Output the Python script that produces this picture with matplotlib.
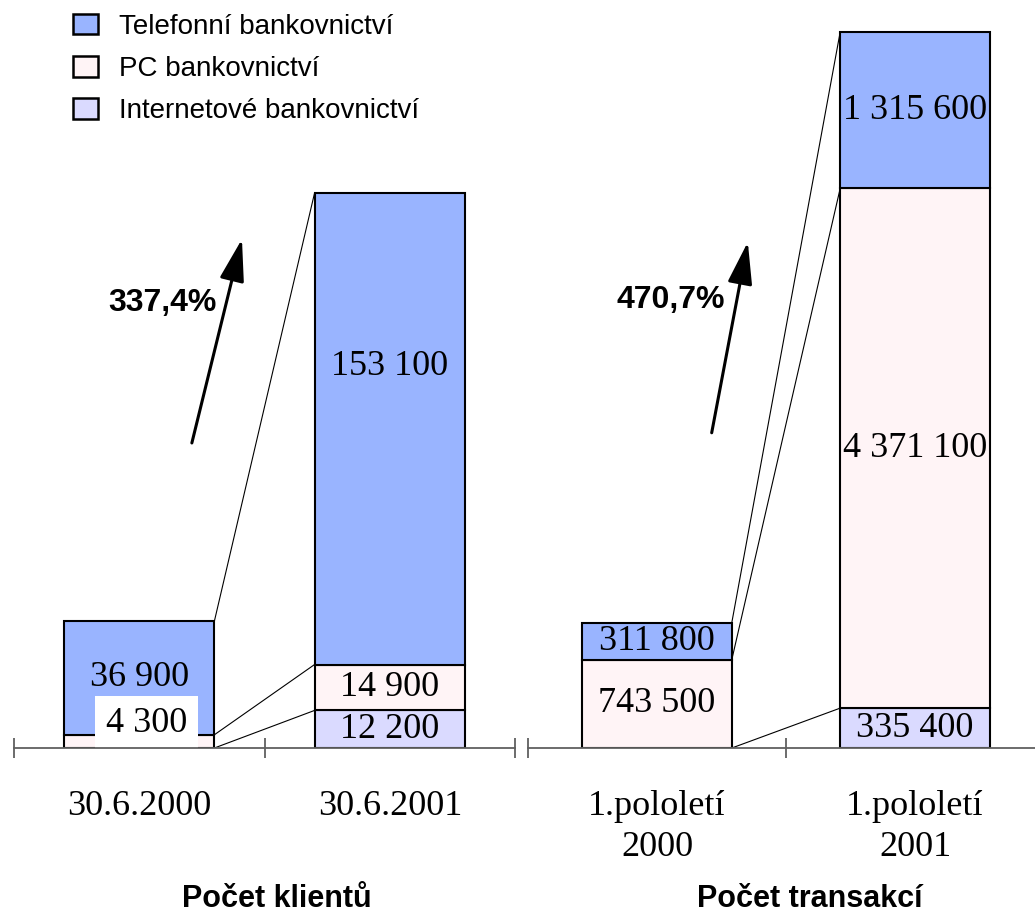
import numpy as np
import matplotlib.pyplot as plt
from matplotlib.patches import Patch

# data
series = ['Telefonní bankovnictví', 'PC bankovnictví', 'Internetové bankovnictví']
colors = ['#99b4ff', '#fff4f6', '#dadaff']

client_dates = ['30.6.2000', '30.6.2001']
client_tel = [36900, 153100]
client_pc = [4300, 14900]
client_inet = [0, 12200]

trans_periods = ['1.pololetí\n2000', '1.pololetí\n2001']
trans_tel = [311800, 1315600]
trans_pc = [743500, 4371100]
trans_inet = [0, 335400]

growth = ['337,4%', '470,7%']
titles = ['Počet klientů', 'Počet transakcí']

serif = 'Liberation Serif'
sans = 'Liberation Sans'


def fmt(v):
    return f'{v:,}'.replace(',', ' ')


fig = plt.figure(figsize=(10.35, 9.16), dpi=100)
W, H = 1035.0, 916.0


def panel(rect, labels, tel, pc, inet, ymax, width, label_offsets, pct, title,
          arrow_xy, pct_xy, title_x):
    ax = fig.add_axes(rect)
    x = np.array([0.5, 1.5])
    # stack: internet bottom, PC middle, telefon top
    stacks = [inet, pc, tel]
    order = [2, 1, 0]
    bottom = np.zeros(2)
    levels = []
    for vals, ci in zip(stacks, order):
        vals = np.array(vals, dtype=float)
        ax.bar(x, vals, width, bottom=bottom, color=colors[ci],
               edgecolor='black', linewidth=1.5, zorder=3)
        for i in range(2):
            if vals[i] <= 0:
                continue
            dx, dy, boxed = label_offsets.get((ci, i), (0, 0, False))
            kw = {}
            if boxed:
                kw['bbox'] = dict(boxstyle='square,pad=0.3', fc='white', ec='none')
            ax.annotate(fmt(int(vals[i])), (x[i], bottom[i] + vals[i] / 2),
                        xytext=(dx, dy), textcoords='offset points',
                        ha='center', va='center', fontsize=26, family=serif,
                        zorder=5, **kw)
        bottom = bottom + vals
        levels.append(bottom.copy())

    # connector lines between the two bars
    for lv in levels:
        ax.plot([x[0] + width / 2, x[1] - width / 2], [lv[0], lv[1]],
                color='black', lw=0.8, zorder=2)

    ax.set_xlim(0, 2)
    ax.set_ylim(0, ymax)
    for s in ['top', 'left', 'right']:
        ax.spines[s].set_visible(False)
    ax.spines['bottom'].set_color('#606060')
    ax.spines['bottom'].set_linewidth(1.3)
    ax.spines['bottom'].set_zorder(6)
    ax.set_yticks([])
    ax.set_xticks([0, 1, 2])
    ax.set_xticklabels([])
    ax.tick_params(axis='x', which='major', direction='inout', length=14,
                   width=1.3, color='#606060')
    ax.set_xticks(x, labels, minor=True)
    ax.tick_params(axis='x', which='minor', length=0, pad=30)
    for t in ax.get_xticklabels(minor=True):
        t.set_fontfamily(serif)
        t.set_fontsize(26)
        t.set_linespacing(1.35)
    ax.patch.set_alpha(0)

    ax.annotate('', xy=arrow_xy[1], xytext=arrow_xy[0], xycoords='axes fraction',
                textcoords='axes fraction',
                arrowprops=dict(arrowstyle='-|>,head_length=1.3,head_width=0.38',
                                mutation_scale=20, lw=2.2, color='black',
                                shrinkA=0, shrinkB=0))
    ax.text(pct_xy[0], pct_xy[1], pct, transform=ax.transAxes, ha='center',
            va='center', fontsize=23, fontweight='bold', family=sans)
    ax.text(title_x, -0.208, title, transform=ax.transAxes, ha='center',
            va='center', fontsize=22, fontweight='bold', family=sans)
    return ax


base = 748.0
top = 20.0
h_frac = (base - top) / H
b_frac = (H - base) / H

panel([14 / W, b_frac, 501 / W, h_frac], client_dates,
      client_tel, client_pc, client_inet, 236300, 0.6,
      {(1, 0): (5, 13, True), (0, 1): (0, 45, False)},
      growth[0], titles[0],
      ((0.355, 0.419), (0.455, 0.699)), (0.297, 0.611), 0.525)

panel([528 / W, b_frac, 516 / W, h_frac], trans_periods,
      trans_tel, trans_pc, trans_inet, 6.123e6, 0.58,
      {},
      growth[1], titles[1],
      ((0.356, 0.433), (0.426, 0.695)), (0.277, 0.615), 0.547)

# legend
handles = [Patch(facecolor=c, edgecolor='black', linewidth=1.8) for c in colors]
fig.legend(handles, series, loc='upper left', bbox_to_anchor=(73 / W, 1 - 14 / H),
           frameon=False, prop={'family': sans, 'size': 20},
           handlelength=0.9, handleheight=0.75, handletextpad=0.75,
           labelspacing=0.58, borderpad=0, borderaxespad=0)

fig.savefig('out.png', dpi=100)
